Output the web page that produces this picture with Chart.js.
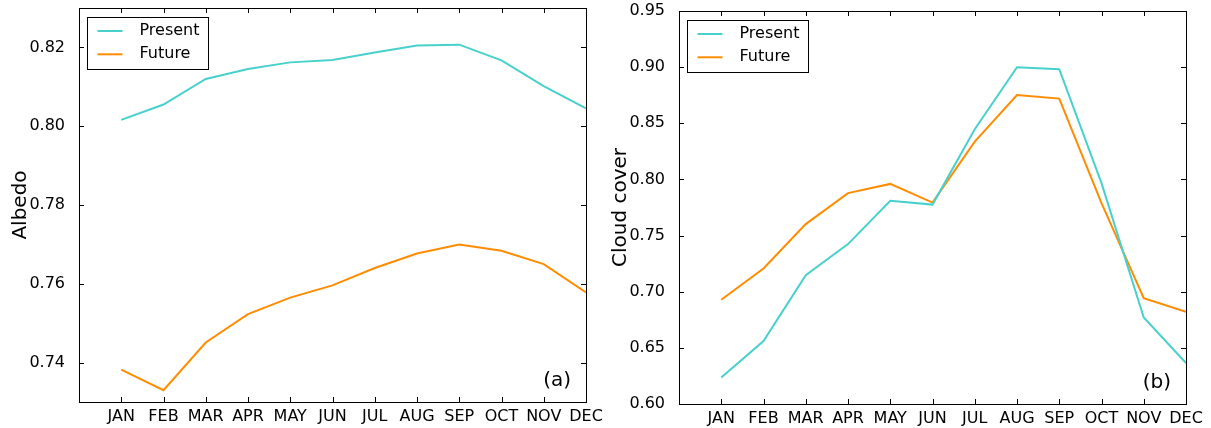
<!DOCTYPE html>
<html>
<head>
<meta charset="utf-8">
<script src="https://cdn.jsdelivr.net/npm/chart.js@4.4.0/dist/chart.umd.min.js"></script>
<style>
    body { margin: 0; background: #fff; }
    #wrap { position: relative; width: 1211px; height: 428px; }
    canvas { position: absolute; top: 0; }
    #albedoChart { left: 0; }
    #cloudChart { left: 600px; }
</style>
</head>
<body>
<div id="wrap">
    <canvas id="albedoChart" width="620" height="428"></canvas>
    <canvas id="cloudChart" width="611" height="428"></canvas>
</div>
<script>
const months = ['JAN', 'FEB', 'MAR', 'APR', 'MAY', 'JUN', 'JUL', 'AUG', 'SEP', 'OCT', 'NOV', 'DEC'];

const albedoPresent = [0.8016, 0.8055, 0.8120, 0.8145, 0.8162, 0.8168, 0.8187, 0.8205, 0.8207, 0.8167, 0.8102, 0.8045];
const albedoFuture  = [0.7382, 0.7330, 0.7451, 0.7523, 0.7565, 0.7596, 0.7640, 0.7677, 0.7700, 0.7684, 0.7650, 0.7578];
const albedoTicks   = [0.74, 0.76, 0.78, 0.80, 0.82];

const cloudPresent = [0.6237, 0.6560, 0.7148, 0.7424, 0.7809, 0.7776, 0.8447, 0.8999, 0.8981, 0.7967, 0.6771, 0.6365];
const cloudFuture  = [0.6928, 0.7207, 0.7602, 0.7878, 0.7960, 0.7794, 0.8337, 0.8752, 0.8720, 0.7789, 0.6943, 0.6821];
const cloudTicks   = [0.60, 0.65, 0.70, 0.75, 0.80, 0.85, 0.90, 0.95];

const FONT = 'DejaVu Sans';
const PRESENT_COLOR = '#48D1CC';
const FUTURE_COLOR = '#FF8C00';

// matplotlib-like frame: box, inward ticks on all sides, legend, panel tag
const mplFrame = {
    id: 'mplFrame',
    afterDatasetsDraw(chart, args, opts) {
        const ctx = chart.ctx;
        const a = chart.chartArea;
        const xs = chart.scales.x, ys = chart.scales.y;
        const tl = 5;
        ctx.save();
        ctx.strokeStyle = '#000';
        ctx.lineWidth = 1;
        ctx.beginPath();
        xs.ticks.forEach(t => {
            const px = Math.round(xs.getPixelForValue(t.value)) + 0.5;
            ctx.moveTo(px, a.bottom); ctx.lineTo(px, a.bottom - tl);
            ctx.moveTo(px, a.top); ctx.lineTo(px, a.top + tl);
        });
        ys.ticks.forEach(t => {
            const py = Math.round(ys.getPixelForValue(t.value)) + 0.5;
            ctx.moveTo(a.left, py); ctx.lineTo(a.left + tl, py);
            ctx.moveTo(a.right, py); ctx.lineTo(a.right - tl, py);
        });
        ctx.stroke();
        ctx.strokeRect(Math.round(a.left) + 0.5, Math.round(a.top) + 0.5,
            Math.round(a.right - a.left), Math.round(a.bottom - a.top));

        // legend
        const lx = Math.round(a.left + 8) + 0.5, ly = Math.round(a.top + 9) + 0.5;
        ctx.fillStyle = '#fff';
        ctx.fillRect(lx, ly, 121, 52);
        ctx.strokeRect(lx, ly, 121, 52);
        ctx.font = '16px "' + FONT + '"';
        ctx.textBaseline = 'middle';
        ctx.textAlign = 'left';
        chart.data.datasets.forEach((ds, i) => {
            const ry = ly + 13.5 + i * 23.3;
            ctx.strokeStyle = ds.borderColor;
            ctx.lineWidth = 2;
            ctx.beginPath();
            ctx.moveTo(lx + 10, ry); ctx.lineTo(lx + 35, ry);
            ctx.stroke();
            ctx.fillStyle = '#000';
            ctx.fillText(ds.label, lx + 52, ry);
        });

        // panel tag
        ctx.font = '20px "' + FONT + '"';
        ctx.textAlign = 'right';
        ctx.textBaseline = 'alphabetic';
        ctx.fillStyle = '#000';
        ctx.fillText(opts.tag, a.right - 15, a.bottom - 16);
        ctx.restore();
    }
};

function toPoints(values) {
    return values.map((v, i) => ({ x: i + 1, y: v }));
}

function makeChart(id, cfg) {
    return new Chart(document.getElementById(id), {
        type: 'line',
        data: {
            datasets: [
                { label: 'Present', data: toPoints(cfg.present), borderColor: PRESENT_COLOR, borderWidth: 2, pointRadius: 0, tension: 0 },
                { label: 'Future', data: toPoints(cfg.future), borderColor: FUTURE_COLOR, borderWidth: 2, pointRadius: 0, tension: 0 }
            ]
        },
        options: {
            responsive: false,
            animation: false,
            devicePixelRatio: 1,
            layout: { padding: { left: 0, right: cfg.padRight, top: cfg.padTop, bottom: 0 } },
            plugins: {
                legend: { display: false },
                tooltip: { enabled: false },
                mplFrame: { tag: cfg.tag }
            },
            scales: {
                x: {
                    type: 'linear',
                    min: 0,
                    max: 12,
                    grid: { display: false },
                    border: { display: false },
                    afterBuildTicks: s => { s.ticks = months.map((m, i) => ({ value: i + 1 })); },
                    afterFit: s => {
                        s.height = cfg.xHeight;
                        s.paddingLeft = 0; s.paddingRight = 0;
                    },
                    ticks: {
                        autoSkip: false,
                        maxRotation: 0,
                        padding: -3,
                        color: '#000',
                        font: { family: FONT, size: 16 },
                        callback: v => months[v - 1]
                    }
                },
                y: {
                    min: cfg.yMin,
                    max: cfg.yMax,
                    grid: { display: false },
                    border: { display: false },
                    afterBuildTicks: s => { s.ticks = cfg.ticks.map(v => ({ value: v })); },
                    afterFit: s => {
                        s.width = 79;
                        s.paddingTop = 0; s.paddingBottom = 0;
                    },
                    ticks: {
                        padding: 6,
                        color: '#000',
                        font: { family: FONT, size: 16 },
                        callback: v => v.toFixed(2)
                    },
                    title: {
                        display: true,
                        text: cfg.title,
                        color: '#000',
                        font: { family: FONT, size: 20 },
                        padding: { top: 9, bottom: 0 }
                    }
                }
            }
        },
        plugins: [mplFrame]
    });
}

makeChart('albedoChart', {
    present: albedoPresent, future: albedoFuture, ticks: albedoTicks,
    yMin: 0.73, yMax: 0.83, title: 'Albedo', tag: '(a)',
    padRight: 34, padTop: 8, xHeight: 26
});

makeChart('cloudChart', {
    present: cloudPresent, future: cloudFuture, ticks: cloudTicks,
    yMin: 0.60, yMax: 0.95, title: 'Cloud cover', tag: '(b)',
    padRight: 25, padTop: 11, xHeight: 24
});
</script>
</body>
</html>
